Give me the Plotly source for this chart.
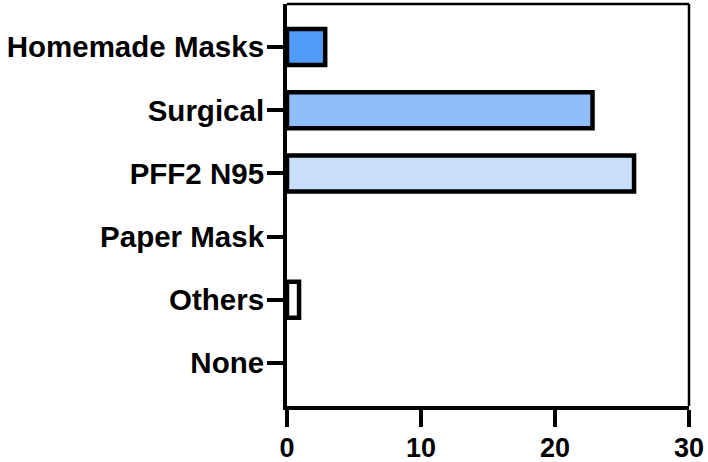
import plotly.graph_objects as go

categories = ["Homemade Masks", "Surgical", "PFF2 N95", "Paper Mask", "Others", "None"]
values = [2.85, 22.8, 25.9, 0, 0.9, 0]
colors = ["#4f9cf8", "#8fbef9", "#c9dff9", "#ffffff", "#ffffff", "#ffffff"]
x_ticks = [0, 10, 20, 30]

font_family = "Liberation Sans, Arial, sans-serif"

# zero-valued categories draw no bar (as in the original)
plot_values = [v if v > 0 else None for v in values]

fig = go.Figure(go.Bar(
    y=categories,
    x=plot_values,
    orientation="h",
    width=0.57,
    marker=dict(color=colors, line=dict(color="black", width=4.5)),
))

fig.update_layout(
    width=708, height=462,
    margin=dict(l=287, r=19, t=4, b=56),
    plot_bgcolor="white", paper_bgcolor="white",
    showlegend=False,
    font=dict(family=font_family, size=29, color="black"),
    xaxis=dict(
        range=[0, 30], tickvals=x_ticks, showgrid=False, zeroline=False,
        automargin=False,
        showline=True, linecolor="black", linewidth=4,
        ticks="outside", ticklen=17, tickwidth=4, tickcolor="black",
        ticklabelstandoff=-2,
        tickfont=dict(family=font_family, size=27, color="black", weight="bold"),
    ),
    yaxis=dict(
        categoryorder="array", categoryarray=categories,
        range=[5.68, -0.68], showgrid=False, zeroline=False,
        automargin=False,
        showline=True, linecolor="black", linewidth=4,
        ticks="outside", ticklen=16, tickwidth=4, tickcolor="black",
        ticklabelstandoff=-3,
        tickfont=dict(family=font_family, size=29.5, color="black", weight="bold"),
    ),
    shapes=[
        dict(type="line", xref="paper", yref="paper", x0=0, x1=1, y0=1, y1=1,
             line=dict(color="black", width=2.5)),
        dict(type="line", xref="paper", yref="paper", x0=1, x1=1, y0=0, y1=1,
             line=dict(color="black", width=2.5)),
    ],
)

fig.write_html("out.html")
